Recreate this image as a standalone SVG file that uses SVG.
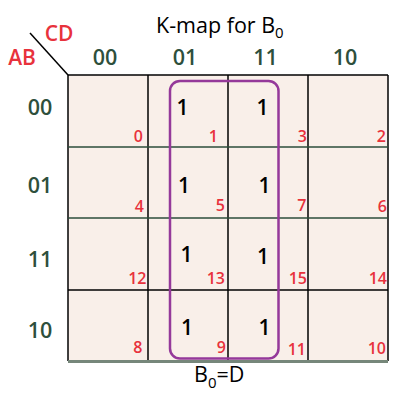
<svg xmlns="http://www.w3.org/2000/svg" width="404" height="401" viewBox="0 0 404 401">
<style>
text{font-family:"Open Sans","Noto Sans","DejaVu Sans",sans-serif}
.hd{fill:#2e4f3c;font-size:21.5px;text-anchor:middle;font-weight:600}
.ab{fill:#e8323c;font-size:21px;text-anchor:middle;font-weight:600}
.n{fill:#e8323c;font-size:16px;text-anchor:end;font-weight:600}
.one{fill:#000;font-size:21px;text-anchor:middle;font-weight:600}
.t{fill:#000;font-size:21.5px}
.vl{stroke:#000;stroke-width:1.5}
.hg{stroke:#2b4c3a;stroke-width:1.5}
</style>
<rect x="68" y="75" width="320" height="286" fill="#f9efe9"/>
<g id="connectors" fill="none">
<line x1="30" y1="33" x2="68" y2="75" stroke="#000" stroke-width="1.5"/>
<line class="vl" x1="68" y1="75" x2="68" y2="361"/>
<line class="vl" x1="148" y1="75" x2="148" y2="361"/>
<line class="vl" x1="228" y1="75" x2="228" y2="361"/>
<line class="vl" x1="308" y1="75" x2="308" y2="361"/>
<line class="vl" x1="388" y1="75" x2="388" y2="361"/>
<line class="vl" x1="68" y1="75" x2="388" y2="75"/>
<line class="hg" x1="68" y1="147" x2="388" y2="147"/>
<line class="hg" x1="68" y1="218" x2="388" y2="218"/>
<line class="vl" x1="68" y1="290" x2="388" y2="290"/>
<line x1="68" y1="361.5" x2="388" y2="361.5" stroke="#76877a" stroke-width="3"/>
</g>
<g id="labels">
<text class="t" x="156" y="33">K-map for B<tspan font-size="15" dy="5">0</tspan></text>
<text class="ab" x="59" y="40.5">CD</text>
<text class="ab" x="22" y="64.5">AB</text>
<text class="hd" x="105" y="65">00</text>
<text class="hd" x="185" y="65">01</text>
<text class="hd" x="265.5" y="65">11</text>
<text class="hd" x="345" y="65">10</text>
<text class="hd" x="40" y="115">00</text>
<text class="hd" x="40" y="193">01</text>
<text class="hd" x="40" y="267">11</text>
<text class="hd" x="40" y="338">10</text>
<text class="t" x="194" y="381.5">B<tspan font-size="15" dy="6">0</tspan><tspan dy="-6">=D</tspan></text>
</g>
<g id="cell0"><text class="n" x="143" y="142">0</text></g>
<g id="cell1"><text class="one" x="182.5" y="115">1</text><text class="n" x="218" y="142">1</text></g>
<g id="cell3"><text class="one" x="262.5" y="115">1</text><text class="n" x="307" y="142">3</text></g>
<g id="cell2"><text class="n" x="386" y="142">2</text></g>
<g id="cell4"><text class="n" x="144" y="212">4</text></g>
<g id="cell5"><text class="one" x="184" y="193">1</text><text class="n" x="225" y="211">5</text></g>
<g id="cell7"><text class="one" x="264.5" y="193">1</text><text class="n" x="306.5" y="211">7</text></g>
<g id="cell6"><text class="n" x="387" y="211.5">6</text></g>
<g id="cell12"><text class="n" x="146.5" y="284">12</text></g>
<g id="cell13"><text class="one" x="186.5" y="262">1</text><text class="n" x="225" y="283.5">13</text></g>
<g id="cell15"><text class="one" x="263" y="264">1</text><text class="n" x="307" y="284">15</text></g>
<g id="cell14"><text class="n" x="387" y="284">14</text></g>
<g id="cell8"><text class="n" x="142.5" y="353">8</text></g>
<g id="cell9"><text class="one" x="187" y="335">1</text><text class="n" x="226" y="353">9</text></g>
<g id="cell11"><text class="one" x="264.5" y="335">1</text><text class="n" x="306" y="355">11</text></g>
<g id="cell10"><text class="n" x="386" y="354">10</text></g>
<g id="group"><rect x="170" y="81" width="108.5" height="277.5" rx="10" fill="none" stroke="#95399a" stroke-width="2.5"/></g>
</svg>
